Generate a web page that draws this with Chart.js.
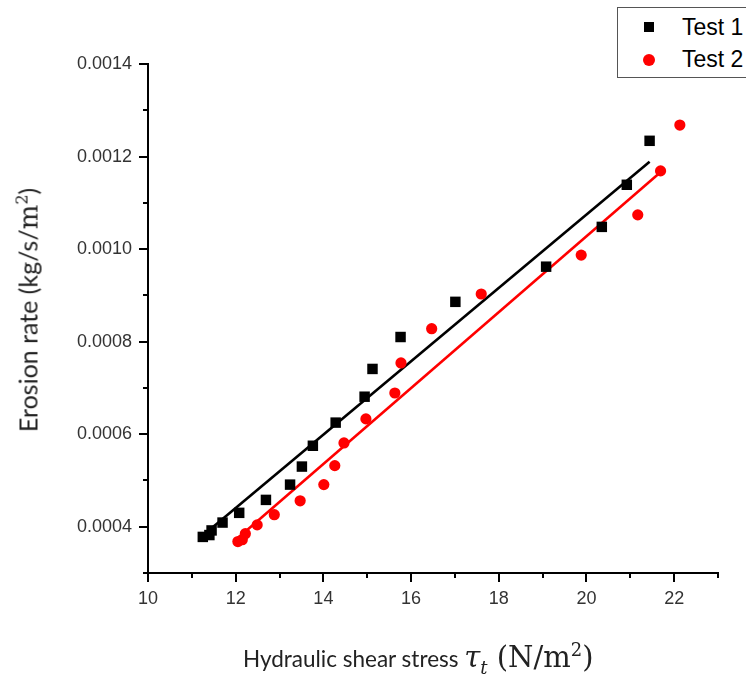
<!DOCTYPE html>
<html>
<head>
<meta charset="utf-8">
<script src="https://cdn.jsdelivr.net/npm/chart.js@4.4.1/dist/chart.umd.min.js"></script>
<style>
  body { margin: 0; background: #fff; }
  #wrap { position: relative; width: 746px; height: 681px; overflow: hidden; }
  #xtitle {
    position: absolute; left: 243px; top: 639px;
    font-family: Lato, "Open Sans", sans-serif; font-size: 22.5px; color: #222; white-space: nowrap;
  }
  #ytitle {
    position: absolute; left: 28px; top: 310px; transform: translate(-50%, -50%) rotate(-90deg);
    font-family: Lato, "Open Sans", sans-serif; font-size: 25px; color: #222; white-space: nowrap;
  }
  .math { font-family: "DejaVu Serif", "Liberation Serif", serif; }
  #xtitle .math { font-size: 29px; }
  #ytitle .math { font-size: 26px; }
  #legend {
    position: absolute; left: 617px; top: 7px; width: 150px; height: 69px;
    border: 1.5px solid #555; background: #fff;
    font-family: "Liberation Sans", Arial, sans-serif; font-size: 23px; color: #000;
  }
  .item { position: absolute; left: 0; height: 30px; line-height: 30px; }
  .mk { position: absolute; }
  .item span { position: absolute; left: 64px; white-space: nowrap; }
</style>
</head>
<body>
<div id="wrap">
  <canvas id="chart" width="746" height="681"></canvas>
  <div id="ytitle">Erosion rate (kg/s/<span class="math">m<sup style="font-size:16px">2</sup></span>)</div>
  <div id="xtitle">Hydraulic shear stress <span class="math"><i>τ<sub style="font-size:18px">t</sub></i> (N/m<sup style="font-size:18px">2</sup>)</span></div>
  <div id="legend"></div>
</div>
<script>
// erosion tests: shear stress (N/m^2) vs erosion rate (kg/s/m^2)
const seriesNames = ['Test 1', 'Test 2'];
const seriesColors = ['#000000', '#ff0000'];

const test1Stress = [11.25, 11.4, 11.45, 11.7, 12.08, 12.69, 13.24, 13.51, 13.76, 14.28, 14.94, 15.12, 15.76, 17.01, 19.08, 20.35, 20.92, 21.44];
const test1Rate = [0.000378, 0.000382, 0.000392, 0.000409, 0.000430, 0.000458, 0.000491, 0.000530, 0.000575, 0.000625, 0.000681, 0.000741, 0.000810, 0.000886, 0.000962, 0.001048, 0.001139, 0.001234];

const test2Stress = [12.05, 12.15, 12.22, 12.49, 12.88, 13.47, 14.01, 14.26, 14.47, 14.97, 15.63, 15.77, 16.47, 17.60, 19.88, 21.17, 21.69, 22.13];
const test2Rate = [0.000368, 0.000372, 0.000385, 0.000404, 0.000426, 0.000456, 0.000491, 0.000532, 0.000581, 0.000633, 0.000689, 0.000754, 0.000828, 0.000903, 0.000987, 0.001074, 0.001169, 0.001268];

// linear fit end points
const fit1Stress = [11.25, 21.44];
const fit1Rate = [0.000381, 0.001189];
const fit2Stress = [12.03, 21.7];
const fit2Rate = [0.000374, 0.001167];

const xTicks = [10, 12, 14, 16, 18, 20, 22];
const xMinor = [11, 13, 15, 17, 19, 21, 23];
const yTicks = [0.0004, 0.0006, 0.0008, 0.0010, 0.0012, 0.0014];
const yMinor = [0.0003, 0.0005, 0.0007, 0.0009, 0.0011, 0.0013];

function pts(xs, ys) {
  return xs.map((x, i) => ({ x: x, y: ys[i] }));
}

const minorTicks = {
  id: 'minorTicks',
  afterDraw(chart) {
    const ctx = chart.ctx;
    const xs = chart.scales.x, ys = chart.scales.y;
    const area = chart.chartArea;
    ctx.save();
    ctx.strokeStyle = '#000';
    ctx.lineWidth = 2;
    ctx.beginPath();
    xMinor.forEach(v => {
      const px = Math.round(xs.getPixelForValue(v));
      ctx.moveTo(px, area.bottom);
      ctx.lineTo(px, area.bottom + 5);
    });
    yMinor.forEach(v => {
      const py = Math.round(ys.getPixelForValue(v));
      ctx.moveTo(area.left, py);
      ctx.lineTo(area.left - 5, py);
    });
    ctx.stroke();
    ctx.restore();
  }
};

const axisCommon = {
  border: { color: '#000', width: 2 },
  grid: { drawOnChartArea: false, drawTicks: true, tickLength: 9, color: '#000', lineWidth: 2 },
};

new Chart(document.getElementById('chart'), {
  type: 'scatter',
  data: {
    datasets: [
      { label: seriesNames[0], data: pts(test1Stress, test1Rate), pointStyle: 'rect', pointRadius: 7.4,
        backgroundColor: seriesColors[0], borderWidth: 0 },
      { label: seriesNames[1], data: pts(test2Stress, test2Rate), pointStyle: 'circle', pointRadius: 5.6,
        backgroundColor: seriesColors[1], borderWidth: 0 },
      { label: 'fit 1', data: pts(fit1Stress, fit1Rate), showLine: true, pointRadius: 0,
        borderColor: seriesColors[0], borderWidth: 2.6 },
      { label: 'fit 2', data: pts(fit2Stress, fit2Rate), showLine: true, pointRadius: 0,
        borderColor: seriesColors[1], borderWidth: 2.6 },
    ]
  },
  options: {
    responsive: false,
    animation: false,
    layout: { padding: { left: 0, top: 64, right: 28, bottom: 0 } },
    plugins: { legend: { display: false }, tooltip: { enabled: false } },
    scales: {
      x: Object.assign({}, axisCommon, {
        type: 'linear', min: 10, max: 23,
        afterBuildTicks: s => { s.ticks = xTicks.map(v => ({ value: v })); },
        afterFit: s => { s.height = 108; },
        ticks: { color: '#333', padding: 6, font: { family: 'Liberation Sans, Arial', size: 18 },
          callback: v => String(v) }
      }),
      y: Object.assign({}, axisCommon, {
        type: 'linear', min: 0.0003, max: 0.0014,
        afterBuildTicks: s => { s.ticks = yTicks.map(v => ({ value: v })); },
        afterFit: s => { s.width = 148; },
        ticks: { color: '#333', padding: 7, font: { family: 'Liberation Sans, Arial', size: 18 },
          callback: v => v.toFixed(4) }
      })
    }
  },
  plugins: [minorTicks]
});

// legend box
const legend = document.getElementById('legend');
seriesNames.forEach((name, i) => {
  const item = document.createElement('div');
  item.className = 'item';
  item.style.top = (i === 0 ? 4 : 36) + 'px';
  const mk = document.createElement('div');
  mk.className = 'mk';
  mk.style.left = (i === 0 ? 26 : 25) + 'px';
  mk.style.top = '10px';
  mk.style.width = (i === 0 ? 10 : 12) + 'px';
  mk.style.height = (i === 0 ? 10 : 12) + 'px';
  mk.style.background = seriesColors[i];
  if (i === 1) mk.style.borderRadius = '50%';
  const txt = document.createElement('span');
  txt.textContent = name;
  item.appendChild(mk);
  item.appendChild(txt);
  legend.appendChild(item);
});
</script>
</body>
</html>
